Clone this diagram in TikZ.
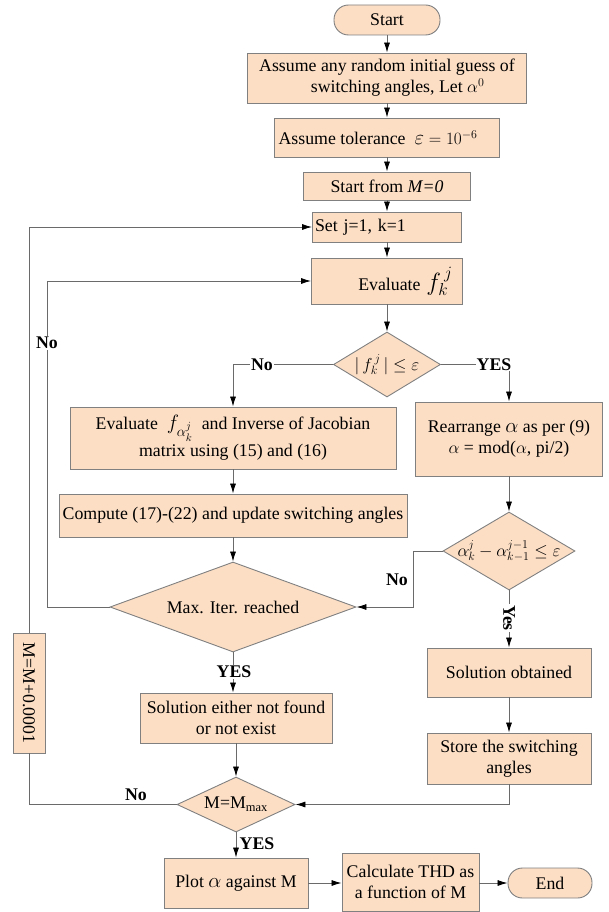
\documentclass[tikz,border=0pt]{standalone}
\usepackage{fontspec}
\setmainfont{Liberation Serif}
\usetikzlibrary{arrows.meta,shapes.geometric}
\definecolor{peach}{HTML}{FCDEC5}
\definecolor{edgegray}{HTML}{808080}
\definecolor{wiregray}{HTML}{6A6A6A}
\begin{document}
\begin{tikzpicture}[x=1pt,y=-1pt,
  every node/.style={font=\fontsize{17.8}{21}\selectfont},
  box/.style 2 args={draw=edgegray,fill=peach,line width=0.9pt,inner sep=2pt,align=center,
    minimum width=#1,minimum height=#2},
  capsule/.style 2 args={box={#1}{#2},rounded corners=14.5pt},
  dia/.style 2 args={shape=diamond,draw=edgegray,fill=peach,line width=0.9pt,inner sep=0pt,
    minimum width=#1,minimum height=#2},
  arr/.style={draw=wiregray,line width=0.8pt,-{Latex[length=10pt,width=6pt,color=black]}},
  ln/.style={draw=wiregray,line width=0.8pt},
  lab/.style={font=\fontsize{17.8}{21}\selectfont\bfseries,inner sep=1pt},
  labw/.style={lab,fill=white}]
\useasboundingbox (0,0) rectangle (608,912);

% nodes
\node[capsule={106}{30}] (start) at (387,20) {Start};
\node[box={279}{50}] (assume) at (387,78) {Assume any random initial guess of\\ \hspace*{1.2em}switching angles, Let $\alpha^{0}$};
\node[box={225}{39}] (tol) at (387,137.5) {Assume tolerance \ {\fontsize{20}{20}\selectfont$\varepsilon$}${}=10^{-6}$\hspace*{1em}};
\node[box={167}{28}] (startM) at (387,186) {Start from \textit{M=0}};
\node[box={149}{30},text width=144pt,align=left,inner xsep=2.5pt] (set) at (387,227) {Set j=1, k=1};
\node[box={151}{46},text width=131pt,align=right,inner xsep=10pt] (evalf) at (387,281)
  {Evaluate {\fontsize{26}{26}\selectfont$f_{k}^{\,j}$}};
\node[dia={107}{65},label={center:$\Bigl|\,f_k^{\,j}\,\Bigr|\le\varepsilon$}] (d1) at (387,364.5) {};
\node[box={326}{62},font=\fontsize{17.8}{27}\selectfont] (evalfa) at (233,438)
  {Evaluate \ {\fontsize{22}{22}\selectfont$f_{\alpha_k^{j}}$} \ and Inverse of Jacobian\\matrix using (15) and (16)};
\node[box={187}{74}] (rearr) at (509,439)
  {Rearrange {\fontsize{22}{22}\selectfont$\alpha$} as per (9)\\ $\alpha$ = mod($\alpha$, pi/2)};
\node[box={348}{43}] (compute) at (233,515.5) {Compute (17)-(22) and update switching angles};
\node[dia={246}{90},label={center:Max. Iter. reached}] (maxit) at (233,607) {};
\node[dia={132}{78},label={center:$\alpha_k^{j}-\alpha_{k-1}^{j-1}\le\varepsilon$}] (d2) at (509,551) {};
\node[box={164}{49}] (solobt) at (509,672.5) {Solution obtained};
\node[box={164}{51}] (store) at (509,758.5) {Store the switching\\angles};
\node[box={192}{50}] (solnf) at (236,718) {Solution either not found\\or not exist};
\node[box={32}{120},label={[rotate=-90]center:M=M+0.0001}] (mbox) at (29,693) {};
\node[dia={118}{55},label={center:M=M\textsubscript{max}}] (mmax) at (236,804.5) {};
\node[box={144}{50}] (plot) at (236,883) {Plot {\fontsize{22}{22}\selectfont$\alpha$} against M};
\node[box={137}{58}] (calc) at (410.5,882) {Calculate THD as\\a function of M};
\node[capsule={84}{30}] (endn) at (550,883) {End};

% connectors
\draw[arr] (start) -- (assume);
\draw[arr] (assume) -- (tol);
\draw[arr] (tol) -- (startM);
\draw[arr] (startM) -- (set);
\draw[arr] (set) -- (evalf);
\draw[arr] (evalf) -- (d1);
\draw[arr] (d1.west) -| (evalfa.north);
\draw[arr] (d1.east) -| (rearr.north);
\draw[arr] (evalfa) -- (compute);
\draw[arr] (compute) -- (maxit);
\draw[arr] (rearr) -- (d2);
\draw[arr] (d2) -- (solobt);
\draw[arr] (d2.west) -- ++(-29,0) |- (maxit.east);
\draw[arr] (maxit.west) -- ++(-62,0) |- (evalf.west);
\draw[arr] (maxit.south) -- (maxit.south |- solnf.north);
\draw[arr] (solobt) -- (store);
\draw[arr] (solnf) -- (mmax);
\draw[arr] (store.south) |- (mmax.east);
\draw[ln] (mmax.west) -| (mbox.south);
\draw[arr] (mbox.north) |- (set.west);
\draw[arr] (mmax) -- (plot);
\draw[arr] (plot.east) -- (plot.east -| calc.west);
\draw[arr] (endn.west -| calc.east) -- (endn.west);

% labels
\node[labw] (lno1) at (262,364.5) {No};
\node[labw] (lyes1) at (494,364.5) {YES};
\node[labw,rotate=-90] (lyes2) at (509,618) {Yes};
\node[lab] (lno2) at (397,580) {No};
\node[labw] (lno3) at (47,343) {No};
\node[labw] (lyes3) at (234,672) {YES};
\node[lab] (lno4) at (136,795) {No};
\node[lab] (lyes4) at (257,844) {YES};
\end{tikzpicture}
\end{document}
